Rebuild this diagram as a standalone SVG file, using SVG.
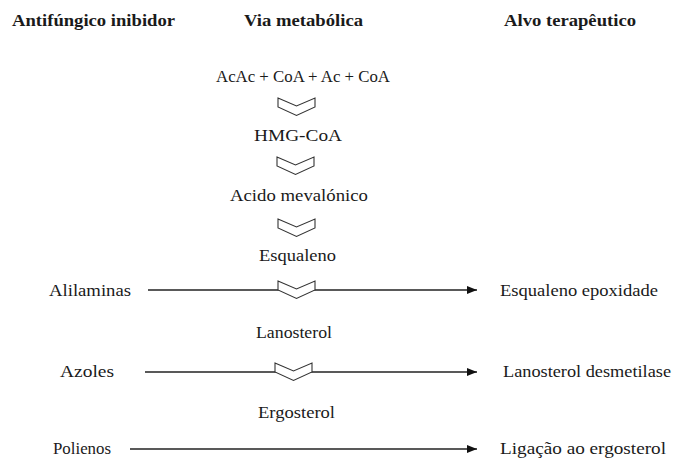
<svg xmlns="http://www.w3.org/2000/svg" width="675" height="461" viewBox="0 0 675 461">
<defs>
<style>
text{font-family:'Liberation Serif','Times New Roman',serif;font-size:16px;fill:#1a1a1a}
.h{font-weight:bold;font-size:16px}
.chev{fill:#fff;stroke:#333;stroke-width:1.1;stroke-linejoin:miter}
.ln{stroke:#222;stroke-width:1.3;fill:none}
</style>
<marker id="ah" viewBox="0 0 10 8" refX="10" refY="4" markerWidth="10" markerHeight="8" markerUnits="userSpaceOnUse" orient="auto">
<path d="M0,0 L10,4 L0,8 Z" fill="#111"/>
</marker>
<path id="chv" d="M0,0 L18.5,8 L37,0 L37,9 L18.5,17.5 L0,9 Z"/>
</defs>
<rect width="675" height="461" fill="#fff"/>

<g id="headers">
<text class="h" x="12" y="26" textLength="163" lengthAdjust="spacingAndGlyphs">Antifúngico inibidor</text>
<text class="h" x="244" y="26" textLength="119" lengthAdjust="spacingAndGlyphs">Via metabólica</text>
<text class="h" x="504" y="26" textLength="132" lengthAdjust="spacingAndGlyphs">Alvo terapêutico</text>
</g>

<g id="connectors">
<line class="ln" x1="148" y1="290" x2="477" y2="290" marker-end="url(#ah)"/>
<line class="ln" x1="145" y1="372" x2="477" y2="372" marker-end="url(#ah)"/>
<line class="ln" x1="130" y1="449" x2="477" y2="449" marker-end="url(#ah)"/>
<use href="#chv" class="chev" x="278" y="98"/>
<use href="#chv" class="chev" x="277" y="157"/>
<use href="#chv" class="chev" x="278" y="219"/>
<use href="#chv" class="chev" x="278" y="281"/>
<use href="#chv" class="chev" x="275" y="363"/>
</g>

<g id="node-acac"><text x="216" y="82" textLength="174" lengthAdjust="spacingAndGlyphs">AcAc + CoA + Ac + CoA</text></g>
<g id="node-hmgcoa"><text x="254" y="141" textLength="88" lengthAdjust="spacingAndGlyphs">HMG-CoA</text></g>
<g id="node-acido"><text x="230" y="201" textLength="138" lengthAdjust="spacingAndGlyphs">Acido mevalónico</text></g>
<g id="node-esqualeno"><text x="259" y="261" textLength="77" lengthAdjust="spacingAndGlyphs">Esqualeno</text></g>
<g id="node-lanosterol"><text x="256" y="338" textLength="76" lengthAdjust="spacingAndGlyphs">Lanosterol</text></g>
<g id="node-ergosterol"><text x="258" y="418" textLength="77" lengthAdjust="spacingAndGlyphs">Ergosterol</text></g>

<g id="node-alilaminas"><text x="49" y="296" textLength="82" lengthAdjust="spacingAndGlyphs">Alilaminas</text></g>
<g id="node-azoles"><text x="60" y="377" textLength="54" lengthAdjust="spacingAndGlyphs">Azoles</text></g>
<g id="node-polienos"><text x="53" y="454" textLength="58" lengthAdjust="spacingAndGlyphs">Polienos</text></g>

<g id="node-esqualeno-epoxidade"><text x="500" y="296" textLength="158" lengthAdjust="spacingAndGlyphs">Esqualeno epoxidade</text></g>
<g id="node-lanosterol-desmetilase"><text x="503" y="377" textLength="168" lengthAdjust="spacingAndGlyphs">Lanosterol desmetilase</text></g>
<g id="node-ligacao"><text x="500" y="454" textLength="166" lengthAdjust="spacingAndGlyphs">Ligação ao ergosterol</text></g>
</svg>
